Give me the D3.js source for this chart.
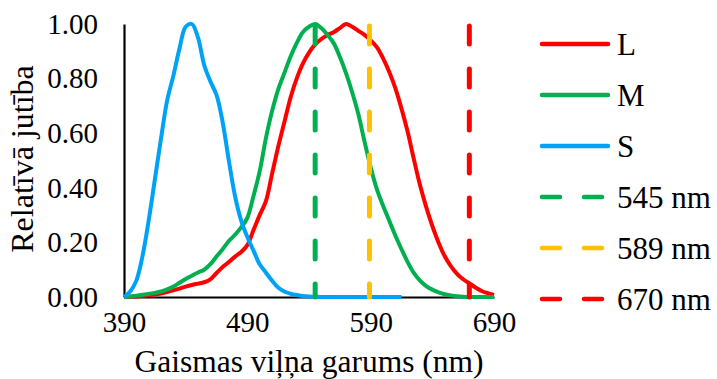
<!DOCTYPE html>
<html><head><meta charset="utf-8">
<script src="https://cdn.jsdelivr.net/npm/d3@7"></script>
</head>
<body style="margin:0"><svg id="c" width="717" height="379"></svg>
<script>
// wavelengths (nm), 5 nm steps
const wavelengths = d3.range(390, 691, 5);
const sWavelengths = d3.range(390, 616, 5);
const seriesL = [0,0.001,0.002,0.004,0.006,0.009,0.013,0.018,0.024,0.031,0.038,0.044,0.049,0.054,0.065,0.088,0.11,0.128,0.148,0.165,0.19,0.245,0.30,0.35,0.45,0.55,0.64,0.73,0.80,0.855,0.895,0.925,0.945,0.96,0.97,0.985,1.0,0.99,0.975,0.96,0.94,0.915,0.875,0.825,0.765,0.69,0.605,0.505,0.41,0.33,0.26,0.20,0.15,0.113,0.085,0.065,0.05,0.035,0.022,0.014,0.008];
const seriesM = [0,0.002,0.005,0.008,0.011,0.015,0.020,0.028,0.038,0.052,0.066,0.078,0.090,0.100,0.120,0.148,0.175,0.205,0.228,0.255,0.29,0.37,0.46,0.58,0.68,0.76,0.82,0.88,0.93,0.97,0.99,1.0,0.985,0.96,0.93,0.88,0.82,0.75,0.67,0.57,0.475,0.395,0.335,0.28,0.225,0.175,0.128,0.088,0.06,0.04,0.027,0.017,0.010,0.006,0.003,0.001,0,0,0,0,0];
const seriesS = [0,0.02,0.06,0.15,0.28,0.43,0.58,0.72,0.81,0.91,0.99,1.0,0.95,0.85,0.79,0.74,0.64,0.50,0.37,0.28,0.22,0.17,0.12,0.09,0.06,0.035,0.02,0.012,0.007,0.004,0.002,0.001,0,0,0,0,0,0,0,0,0,0,0,0,0,0];
const markerNm = [545, 589, 670];
const markerLabels = ["545 nm", "589 nm", "670 nm"];
const xTicks = [390, 490, 590, 690];
const yTicks = [0, 0.2, 0.4, 0.6, 0.8, 1.0];
const seriesNames = ["L", "M", "S"];

const colors = {L:"#FF0000", M:"#00B050", S:"#00A2F8"};
const markerColors = ["#00B050", "#FFC000", "#FF0000"];
const FONT = "Liberation Serif";
const BASE = 26; // base font size; larger sizes reached by scaling

const svg = d3.select("#c");
const x = d3.scaleLinear().domain([390, 690]).range([124, 494]);
const y = d3.scaleLinear().domain([0, 1]).range([297, 24]);

function addText(px, py, str, size, anchor, rot) {
  const k = size / BASE;
  return svg.append("text")
    .attr("transform", `translate(${px},${py})` + (rot ? ` rotate(${rot})` : "") + ` scale(${k})`)
    .attr("font-family", FONT).attr("font-size", BASE)
    .attr("text-anchor", anchor).attr("fill", "#000").text(str);
}

// axes
const kT = 29 / BASE;
const xAxis = svg.append("g").attr("transform", "translate(0,297)")
  .call(d3.axisBottom(x).tickValues(xTicks).tickSize(0).tickPadding(14).tickFormat(d3.format("d")));
const yAxis = svg.append("g").attr("transform", "translate(124,0)")
  .call(d3.axisLeft(y).tickValues(yTicks).tickSize(0).tickPadding(26).tickFormat(d3.format(".2f")));
[xAxis, yAxis].forEach(g => {
  g.attr("font-family", FONT).attr("font-size", BASE);
  g.select(".domain").attr("stroke", "#000").attr("stroke-width", 2.2);
  g.selectAll("text").attr("font-family", FONT).attr("font-size", BASE).attr("fill", "#000")
    .attr("transform", `scale(${kT})`);
});
xAxis.selectAll("text").attr("y", 14 / kT).attr("dy", "0.71em");
yAxis.selectAll("text").attr("x", -26 / kT).attr("dy", "0.32em");

// curves
const line = (xs, ys) => d3.line().curve(d3.curveCatmullRom.alpha(0.5))
  .x((d,i) => x(xs[i])).y(d => y(d))(ys);
const curves = [["L", wavelengths, seriesL], ["M", wavelengths, seriesM], ["S", sWavelengths, seriesS]];
curves.forEach(([n, xs, ys]) => {
  svg.append("path").attr("d", line(xs, ys)).attr("fill", "none")
    .attr("stroke", colors[n]).attr("stroke-width", 4).attr("stroke-linejoin", "round");
});

// marker lines
markerNm.forEach((nm, i) => {
  svg.append("line").attr("x1", x(nm)).attr("x2", x(nm)).attr("y1", y(1) + 2).attr("y2", y(0))
    .attr("stroke", markerColors[i]).attr("stroke-width", 5)
    .attr("stroke-dasharray", "18 25").attr("stroke-linecap", "round");
});

// axis titles
addText(309, 372, "Gaismas viļņa garums (nm)", 31.5, "middle");
addText(33, 159, "Relatīvā jutība", 32, "middle", -90);

// legend
const legendItems = seriesNames.map(n => ({label:n, color:colors[n], dash:null}))
  .concat(markerLabels.map((l, i) => ({label:l, color:markerColors[i], dash:"18 24"})));
legendItems.forEach((it, i) => {
  const cy = 44 + i * 51;
  svg.append("line").attr("x1", 542).attr("x2", 608).attr("y1", cy).attr("y2", cy)
    .attr("stroke", it.color).attr("stroke-width", 4.5).attr("stroke-linecap", "round")
    .attr("stroke-dasharray", it.dash);
  addText(617, cy, it.label, 31, "start").attr("dy", "0.35em");
});
</script></body></html>
